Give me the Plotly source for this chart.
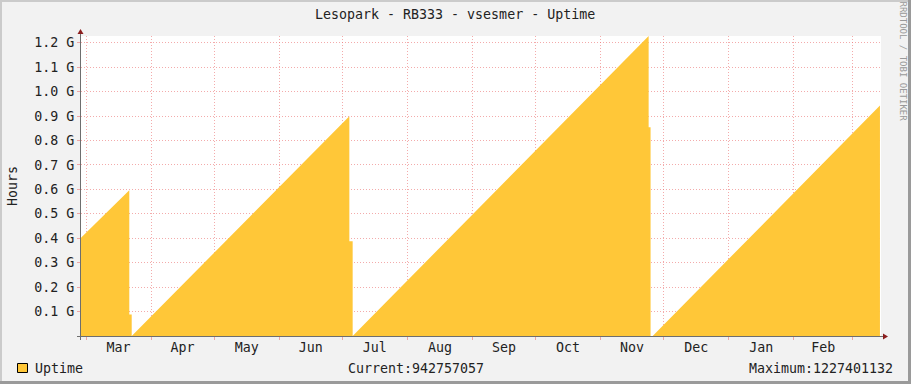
import plotly.graph_objects as go

# ---- data ----
times = [
    "2014-02-26 14:50", "2014-03-21 14:40", "2014-03-21 14:40", "2014-03-22 18:10",
    "2014-03-22 18:10", "2014-07-04 09:00", "2014-07-04 09:00", "2014-07-05 23:00",
    "2014-07-05 23:00", "2014-11-23 21:00", "2014-11-23 21:00", "2014-11-24 19:00",
    "2014-11-24 19:00", "2014-11-25 19:00", "2015-03-14 00:00",
]
uptime = [
    0.402e9, 0.596e9, 0.088e9, 0.088e9,
    0.0, 0.899e9, 0.388e9, 0.388e9,
    0.0, 1227401132, 0.854e9, 0.854e9,
    0.0, 0.0, 942757057,
]
y_tick_vals = [0.1e9, 0.2e9, 0.3e9, 0.4e9, 0.5e9, 0.6e9, 0.7e9, 0.8e9, 0.9e9, 1.0e9, 1.1e9, 1.2e9]
y_tick_text = ["0.1 G", "0.2 G", "0.3 G", "0.4 G", "0.5 G", "0.6 G", "0.7 G", "0.8 G",
               "0.9 G", "1.0 G", "1.1 G", "1.2 G"]
title_text = "Lesopark - RB333 - vsesmer - Uptime"
legend_name = "Uptime"
current_value = 942757057
maximum_value = 1227401132

# ---- layout geometry ----
W, H = 911, 384
L, R, T, B = 81, 30, 36, 48
PW, PH = W - L - R, H - T - B
FONT = "DejaVu Sans Mono"
FS = 13.3
FILL = "#FFC738"
GRID = "rgba(235,115,115,0.6)"


def px(x):
    return (x - L) / PW


def py(y):
    return (H - B - y) / PH


fig = go.Figure()
fig.add_trace(go.Scatter(
    x=times, y=uptime, mode="lines", fill="tozeroy",
    fillcolor=FILL, line=dict(width=0, color=FILL), showlegend=False,
    hoverinfo="skip",
))

shapes = []
# image border
shapes += [
    dict(type="rect", xref="paper", yref="paper", x0=px(0), x1=px(W), y0=py(0), y1=py(2),
         fillcolor="#CBCBCB", line=dict(width=0)),
    dict(type="rect", xref="paper", yref="paper", x0=px(0), x1=px(2), y0=py(0), y1=py(H),
         fillcolor="#CBCBCB", line=dict(width=0)),
    dict(type="rect", xref="paper", yref="paper", x0=px(W - 3), x1=px(W), y0=py(0), y1=py(H),
         fillcolor="#9A9A9A", line=dict(width=0)),
    dict(type="rect", xref="paper", yref="paper", x0=px(0), x1=px(W), y0=py(H - 3), y1=py(H),
         fillcolor="#9A9A9A", line=dict(width=0)),
]
# axes lines with arrows
AX = "#6E6E6E"
ARR = "#8B1E1E"
shapes += [
    dict(type="line", xref="paper", yref="paper", x0=px(80.5), x1=px(80.5), y0=py(340), y1=py(33),
         line=dict(color=AX, width=1)),
    dict(type="line", xref="paper", yref="paper", x0=px(77), x1=px(884), y0=py(336.5), y1=py(336.5),
         line=dict(color=AX, width=1)),
    dict(type="path", xref="paper", yref="paper",
         path=f"M {px(77.5)} {py(34)} L {px(83.5)} {py(34)} L {px(80.5)} {py(29)} Z",
         fillcolor=ARR, line=dict(width=0)),
    dict(type="path", xref="paper", yref="paper",
         path=f"M {px(883)} {py(333.5)} L {px(883)} {py(339.5)} L {px(888)} {py(336.5)} Z",
         fillcolor=ARR, line=dict(width=0)),
]
# legend box
shapes.append(dict(type="rect", xref="paper", yref="paper", x0=px(17.5), x1=px(27.5),
                   y0=py(363.5), y1=py(372.5), fillcolor=FILL, line=dict(color="black", width=1)))

annotations = [
    dict(text=title_text, xref="paper", yref="paper", x=px(455), y=py(14), showarrow=False,
         xanchor="center", yanchor="middle", font=dict(family=FONT, size=FS, color="#222")),
    dict(text="Hours", xref="paper", yref="paper", x=px(12), y=py(186), showarrow=False,
         textangle=-90, xanchor="center", yanchor="middle",
         font=dict(family=FONT, size=FS, color="#222")),
    dict(text="RRDTOOL / TOBI OETIKER", xref="paper", yref="paper", x=px(902.5), y=py(61),
         showarrow=False, textangle=90, xanchor="center", yanchor="middle",
         font=dict(family=FONT, size=9, color="#999999")),
    dict(text=legend_name, xref="paper", yref="paper", x=px(33), y=py(368), showarrow=False,
         xanchor="left", yanchor="middle", font=dict(family=FONT, size=FS, color="#222")),
    dict(text=f"Current:{current_value}", xref="paper", yref="paper", x=px(346), y=py(368),
         showarrow=False, xanchor="left", yanchor="middle",
         font=dict(family=FONT, size=FS, color="#222")),
    dict(text=f"Maximum:{maximum_value}", xref="paper", yref="paper", x=px(895), y=py(368),
         showarrow=False, xanchor="right", yanchor="middle",
         font=dict(family=FONT, size=FS, color="#222")),
]

fig.update_layout(
    width=W, height=H,
    margin=dict(l=L, r=R, t=T, b=B, pad=0),
    paper_bgcolor="#F2F2F2", plot_bgcolor="white",
    font=dict(family=FONT, size=FS, color="#222"),
    shapes=shapes, annotations=annotations,
    xaxis=dict(
        type="date", range=["2014-02-26 14:50", "2015-03-14 12:00"],
        tick0="2014-03-01", dtick="M1", tickformat="%b", ticklabelmode="period",
        showgrid=True, gridcolor=GRID, griddash="1px,2px", gridwidth=1,
        ticks="outside", ticklen=3, tickcolor=GRID, showline=False, zeroline=False,
        ticklabelstandoff=-4,
        tickfont=dict(family=FONT, size=FS, color="#222"), fixedrange=True,
    ),
    yaxis=dict(
        range=[0, 1227401132], tickvals=y_tick_vals, ticktext=y_tick_text,
        showgrid=True, gridcolor=GRID, griddash="1px,2px", gridwidth=1,
        ticks="outside", ticklen=3, tickcolor=GRID, showline=False, zeroline=False,
        tickfont=dict(family=FONT, size=FS, color="#222"), fixedrange=True,
    ),
)

fig.write_html("out.html")
